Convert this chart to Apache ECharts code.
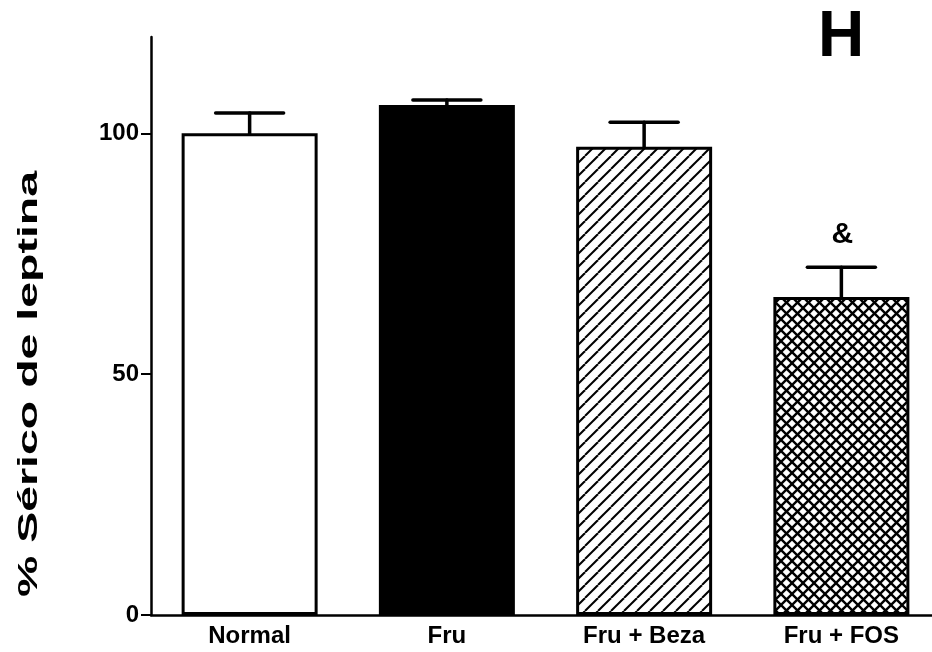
<!DOCTYPE html>
<html>
<head>
<meta charset="utf-8">
<script src="https://cdn.jsdelivr.net/npm/echarts@6/dist/echarts.min.js"></script>
<style>
  html, body { margin: 0; padding: 0; background: #fff; }
  #chart { width: 932px; height: 652px; }
</style>
</head>
<body>
<div id="chart"></div>
<script>
// values (% of normal serum leptin)
const categories = ['Normal', 'Fru', 'Fru + Beza', 'Fru + FOS'];
const means = [100, 105.9, 97.2, 66.0];
const sem = [4.2, 1.0, 5.1, 6.2];
const marks = ['', '', '', '&'];
const yTicks = [0, 50, 100];

const FONT = 'Liberation Sans, Arial, sans-serif';

// hatch fills
function hatch(kind) {
  const s = kind === 'cross' ? 11 : 13;
  const c = document.createElement('canvas');
  c.width = s; c.height = s;
  const g = c.getContext('2d');
  g.fillStyle = '#fff';
  g.fillRect(0, 0, s, s);
  g.strokeStyle = '#000';
  g.lineWidth = kind === 'cross' ? 2.4 : 2;
  const diag = (dir) => {
    for (const o of [-s, 0, s]) {
      g.beginPath();
      if (dir > 0) { g.moveTo(o, s); g.lineTo(o + s, 0); }
      else { g.moveTo(o, 0); g.lineTo(o + s, s); }
      g.stroke();
    }
  };
  diag(1);
  if (kind === 'cross') diag(-1);
  return { image: c, repeat: 'repeat' };
}

const fills = ['#fff', '#000', hatch('diag'), hatch('cross')];

const chart = echarts.init(document.getElementById('chart'), null, { renderer: 'canvas' });

chart.setOption({
  animation: false,
  textStyle: { fontFamily: FONT },
  grid: { left: 151, top: 37, bottom: 37, width: 789, outerBoundsMode: 'none', containLabel: false },
  xAxis: {
    type: 'category',
    data: categories,
    axisLine: { lineStyle: { color: '#000', width: 2.5 } },
    axisTick: { alignWithLabel: true, length: 6, lineStyle: { color: '#000', width: 2 } },
    axisLabel: { color: '#000', fontWeight: 'bold', fontSize: 24, margin: 9 }
  },
  yAxis: {
    type: 'value',
    min: 0,
    max: 120,
    axisLine: { show: true, lineStyle: { color: '#000', width: 2.5 } },
    axisTick: { show: true, length: 10, customValues: yTicks, lineStyle: { color: '#000', width: 2 } },
    axisLabel: { color: '#000', fontWeight: 'bold', fontSize: 24, margin: 12, customValues: yTicks },
    splitLine: { show: false }
  },
  graphic: [
    {
      type: 'text',
      left: 818,
      top: 6,
      style: { text: 'H', fontSize: 64, fontWeight: 'bold', fill: '#000', fontFamily: FONT }
    },
    {
      type: 'text',
      x: 29,
      y: 384,
      rotation: Math.PI / 2,
      scaleX: 1.66,
      style: {
        text: '% Sérico de leptina', fontSize: 28, fontWeight: 'bold', fill: '#000',
        fontFamily: FONT, align: 'center', verticalAlign: 'middle'
      }
    }
  ],
  series: [
    {
      type: 'bar',
      barWidth: 136,
      data: means.map((v, i) => ({
        value: v,
        itemStyle: { color: fills[i], borderColor: '#000', borderWidth: 3 }
      })),
      z: 2
    },
    {
      type: 'custom',
      z: 3,
      data: means.map((v, i) => [i, v, v + sem[i]]),
      renderItem: (params, api) => {
        const base = api.coord([api.value(0), api.value(1)]);
        const top = api.coord([api.value(0), api.value(2)]);
        const half = 34;
        const style = { stroke: '#000', lineWidth: 3.5, lineCap: 'round' };
        const children = [
          { type: 'line', shape: { x1: base[0], y1: base[1], x2: top[0], y2: top[1] }, style },
          { type: 'line', shape: { x1: top[0] - half, y1: top[1], x2: top[0] + half, y2: top[1] }, style }
        ];
        const m = marks[params.dataIndex];
        if (m) {
          children.push({
            type: 'text',
            style: {
              text: m, x: top[0] + 1, y: top[1] - 33, align: 'center', verticalAlign: 'middle',
              fontSize: 30, fontWeight: 'bold', fill: '#000', fontFamily: FONT
            }
          });
        }
        return { type: 'group', children };
      }
    }
  ]
});
</script>
</body>
</html>
